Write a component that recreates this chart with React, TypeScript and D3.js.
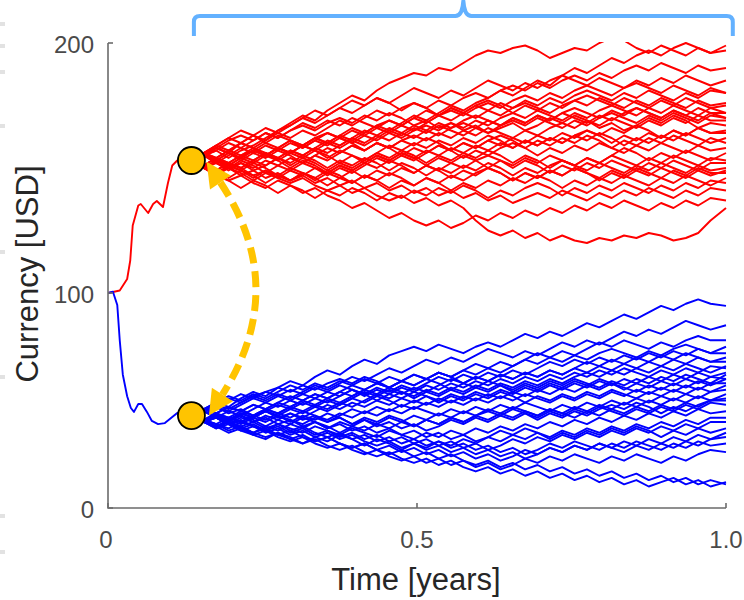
import React from "react";
import * as d3 from "d3";

const xTickValues = [0, 0.5, 1.0];
const xTickLabels = ["0", "0.5", "1.0"];
const yTickValues = [0, 100, 200];
const yTickLabels = ["0", "100", "200"];
const xLabel = "Time [years]";
const yLabel = "Currency [USD]";

const redLeadTimes = [0, 0.008, 0.019, 0.031, 0.036, 0.04, 0.049, 0.053, 0.065, 0.073, 0.079, 0.089, 0.097, 0.104, 0.112, 0.135];
const redLeadValues = [100, 100.4, 101, 105.6, 113, 127, 135, 135.6, 132, 135.6, 136.8, 134.4, 144, 151, 153, 153];
const blueLeadTimes = [0, 0.008, 0.015, 0.019, 0.024, 0.031, 0.037, 0.042, 0.049, 0.055, 0.063, 0.071, 0.081, 0.092, 0.104, 0.112, 0.135];
const blueLeadValues = [100, 100.5, 94.4, 78, 62, 52, 46.5, 44.7, 48.4, 48.4, 44.7, 40.5, 39, 39.5, 42.3, 44.2, 43];

const branchTime = 0.135;
const redBranchValue = 153;
const blueBranchValue = 43;

const fanTimes = [0.135, 0.155, 0.175, 0.195, 0.215, 0.235, 0.255, 0.275, 0.295, 0.315, 0.335, 0.355, 0.375, 0.395, 0.415, 0.435, 0.455, 0.475, 0.495, 0.515, 0.535, 0.555, 0.575, 0.595, 0.615, 0.635, 0.655, 0.675, 0.695, 0.715, 0.735, 0.755, 0.775, 0.795, 0.815, 0.835, 0.855, 0.875, 0.895, 0.915, 0.935, 0.955, 0.975, 1.0];

const redPaths = [
  [153,155,158,156,160,163,161,165,168,171,169,173,176,179,177,181,184,186,188,187,190,189,192,195,197,196,198,199,197,194,196,198,197,200,202,201,198,196,199,197,195,198,196,199],
  [153,151,154,152,155,157,155,158,156,159,162,160,163,161,164,167,165,168,171,169,172,175,173,176,178,181,179,182,185,183,187,190,188,191,194,192,195,197,195,198,200,198,196,197],
  [153,156,154,157,160,158,161,164,162,165,163,166,169,167,170,173,171,174,176,174,177,175,178,180,178,181,183,181,184,182,185,187,185,188,186,189,191,189,192,190,188,191,189,190],
  [153,150,153,156,154,157,155,158,161,159,162,160,163,166,164,167,169,167,170,168,171,173,171,174,176,174,177,179,177,180,178,181,183,181,179,182,184,182,180,183,181,179,182,180],
  [153,155,152,155,158,156,159,157,160,158,161,164,162,165,163,166,164,167,165,168,171,169,172,170,173,171,174,176,174,172,175,177,175,178,176,174,177,175,178,176,174,177,175,176],
  [153,151,149,152,150,153,156,154,157,155,158,156,159,162,160,163,161,164,162,165,163,166,168,166,169,167,170,168,171,169,172,174,172,170,173,171,174,172,170,173,171,174,172,172],
  [153,156,159,157,160,158,155,158,156,159,157,160,158,161,159,162,165,163,166,164,167,165,163,166,164,167,169,167,170,168,166,169,167,170,172,170,168,171,169,172,170,168,171,170],
  [153,150,152,149,152,150,153,151,154,152,155,158,156,159,157,160,158,161,163,161,164,162,165,163,166,164,162,165,163,166,168,166,169,167,170,168,166,169,167,170,168,171,169,169],
  [153,155,157,160,158,161,164,162,165,167,165,168,170,168,171,169,172,170,167,169,166,168,165,167,164,166,168,165,167,170,168,171,169,166,168,165,167,170,168,171,169,166,168,167],
  [153,151,154,157,155,158,156,153,156,154,157,155,152,155,153,156,159,157,160,158,161,159,162,160,163,161,158,161,159,162,160,163,165,163,166,164,167,165,162,165,163,166,164,165],
  [153,156,153,150,153,151,148,151,149,152,150,147,150,148,151,154,152,155,153,156,159,157,160,158,161,159,162,160,163,161,164,162,165,163,160,163,161,164,162,165,163,166,164,164],
  [153,150,147,150,148,145,148,146,149,147,150,148,151,149,152,155,153,156,154,157,155,158,156,159,157,160,158,161,159,162,160,163,161,164,162,159,162,160,163,161,164,162,160,162],
  [153,155,153,156,154,157,160,158,161,159,162,164,162,160,163,161,164,162,165,167,165,168,166,169,167,170,172,170,173,171,169,172,170,173,175,173,171,174,172,175,173,171,174,172],
  [153,156,158,161,163,161,164,162,165,168,166,169,167,170,168,166,169,167,170,173,171,174,172,175,177,175,172,175,173,176,174,177,179,177,175,178,176,174,177,175,178,176,174,175],
  [153,151,154,152,150,153,151,154,157,155,158,161,159,162,165,163,166,164,167,165,168,166,169,171,169,167,170,168,171,169,172,170,168,171,169,172,174,172,170,173,171,169,172,170],
  [153,156,159,162,160,163,166,164,167,170,173,171,174,177,175,178,176,179,182,180,178,181,179,182,185,183,181,184,182,185,187,185,183,186,184,182,185,183,186,184,187,185,183,185],
  [153,150,148,151,149,146,149,147,150,148,145,148,146,149,152,150,153,151,148,151,149,152,150,153,155,153,150,153,151,148,151,149,152,150,153,151,149,152,150,153,151,149,152,152],
  [153,155,152,150,152,149,151,154,152,155,153,150,153,151,154,152,149,152,150,147,150,148,151,149,152,150,147,150,148,151,153,151,149,152,150,148,151,149,152,150,148,151,149,150],
  [153,151,149,146,149,147,144,147,145,148,146,143,146,144,147,145,148,146,143,146,144,147,145,148,150,148,145,148,146,149,147,150,148,146,149,147,150,148,146,149,147,150,148,148],
  [153,156,154,151,149,152,150,147,145,148,146,149,147,144,147,145,142,145,143,146,144,141,144,142,145,143,146,144,147,145,142,145,143,146,144,147,145,143,146,144,147,145,143,146],
  [153,150,153,151,154,157,155,158,156,159,157,154,157,155,152,155,153,156,154,151,154,152,155,153,150,153,151,154,152,155,153,151,154,152,155,153,151,154,152,155,153,151,154,153],
  [153,150,147,145,142,145,143,140,143,141,138,141,139,142,140,137,140,138,141,139,142,140,143,141,138,141,139,142,144,142,139,142,140,143,141,144,142,140,143,141,144,142,145,144],
  [153,151,148,150,147,149,146,148,145,147,144,146,143,145,142,144,141,143,140,142,139,141,138,140,137,139,136,138,140,138,141,139,137,140,138,141,139,142,140,138,141,139,142,141],
  [153,151,149,152,150,147,149,146,144,146,143,141,143,140,142,139,137,139,136,138,135,137,134,129,125,123,125,122,124,121,123,121,120,122,121,123,122,124,123,121,122,124,129,134],
  [153,150,148,145,147,144,142,145,143,140,142,139,137,134,136,133,130,132,129,127,129,126,128,131,129,132,130,133,131,134,132,135,133,136,134,137,135,133,136,134,137,135,138,137],
  [153,155,158,156,153,156,154,157,155,152,155,153,156,159,157,160,158,155,158,156,159,157,154,157,155,158,160,158,155,158,156,159,157,160,158,156,159,157,160,158,156,159,157,158],
  [153,151,149,152,155,153,156,154,151,154,152,149,152,150,153,156,154,157,155,152,155,153,156,154,157,155,152,155,153,150,153,151,154,152,155,158,156,153,156,154,157,155,153,156],
  [153,156,159,162,165,163,160,163,161,158,161,159,162,160,157,160,158,161,159,162,160,157,160,158,161,163,161,158,161,159,162,160,163,161,158,161,159,162,160,163,161,159,162,160],
  [153,155,157,154,157,159,162,165,167,170,168,171,174,172,175,178,176,173,176,174,171,174,172,175,173,176,174,177,175,178,176,179,181,179,177,180,178,181,179,177,180,178,181,180],
  [153,156,153,151,154,152,155,153,150,153,151,148,151,149,146,149,147,150,148,151,149,146,149,147,150,148,145,148,146,149,147,150,148,145,148,146,149,147,150,148,146,149,147,149],
];

const bluePaths = [
  [43,46,49,47,51,54,52,56,59,57,61,64,62,66,69,67,71,73,75,73,76,74,72,75,77,75,78,81,79,82,80,83,86,84,87,90,88,91,94,92,95,97,95,94],
  [43,45,48,46,49,52,50,53,51,54,57,55,58,61,59,62,65,63,66,69,67,70,68,71,74,72,70,73,71,74,77,75,78,76,79,82,80,83,81,84,87,85,83,85],
  [43,41,44,47,45,48,46,49,52,50,53,51,54,57,55,58,56,59,62,60,63,61,64,67,65,68,66,69,72,70,73,71,74,77,75,78,76,74,77,75,78,80,78,78],
  [43,46,44,42,45,48,46,49,47,50,53,51,54,52,55,58,56,59,57,60,63,61,64,62,65,63,66,69,67,70,68,71,69,72,74,72,70,73,71,74,76,74,72,75],
  [43,45,42,45,43,46,49,47,50,48,51,49,52,55,53,56,54,57,55,58,61,59,62,60,63,61,64,62,65,68,66,69,67,70,68,71,69,72,70,73,71,74,72,72],
  [43,40,43,41,44,42,45,48,46,49,47,50,48,51,54,52,55,53,56,54,57,60,58,61,59,62,60,63,61,64,62,65,68,66,69,67,70,68,71,69,72,70,68,70],
  [43,46,49,52,50,53,51,54,57,55,58,56,59,57,60,58,61,59,62,60,63,61,58,61,59,62,60,63,61,64,62,65,63,66,64,67,65,68,66,69,67,70,68,68],
  [43,41,39,42,40,43,46,44,47,45,48,46,49,47,50,53,51,54,52,55,53,56,54,57,55,58,56,59,57,60,58,61,63,61,64,62,65,63,66,64,67,65,63,66],
  [43,45,47,45,48,51,49,52,50,53,56,54,57,55,52,55,53,56,54,57,55,58,56,59,57,60,58,61,59,62,60,63,61,64,62,65,63,61,64,62,65,63,66,65],
  [43,40,42,39,42,40,43,41,44,42,45,48,46,49,47,50,48,51,49,52,50,53,51,54,52,55,53,56,54,57,55,58,56,59,57,60,58,61,59,62,60,63,61,63],
  [43,46,44,47,45,43,46,44,47,50,48,51,49,52,55,53,56,54,51,54,52,55,53,56,54,57,55,58,56,59,57,60,58,56,59,57,60,58,61,59,62,60,58,62],
  [43,45,43,41,44,42,45,43,46,44,47,45,48,51,49,52,50,47,50,48,51,49,52,50,53,51,54,52,55,53,56,54,57,55,58,56,54,57,55,58,56,59,57,60],
  [43,40,38,41,39,42,40,43,41,39,42,40,43,46,44,47,45,48,46,49,47,50,48,51,49,52,50,53,51,49,52,50,53,51,54,52,55,53,56,54,57,55,58,58],
  [43,46,48,51,49,52,54,52,55,53,51,54,52,55,53,50,53,51,54,52,49,52,50,53,51,54,52,49,52,50,53,51,54,52,55,53,51,54,52,55,53,56,54,57],
  [43,41,44,42,40,43,41,44,42,45,43,41,44,42,45,43,46,44,47,45,43,46,44,47,45,48,46,49,47,45,48,46,49,47,50,48,51,49,52,50,53,51,54,55],
  [43,45,42,40,43,41,38,41,39,42,40,37,40,38,41,39,42,40,43,41,44,42,45,43,46,44,47,45,43,46,44,47,45,48,46,49,47,50,48,51,49,52,50,53],
  [43,40,37,40,38,35,38,36,39,37,40,38,35,38,36,39,37,40,38,41,39,42,40,43,41,44,42,45,43,46,44,42,45,43,46,44,47,45,48,46,49,47,50,51],
  [43,45,47,44,46,43,45,42,44,41,43,40,42,39,41,38,40,37,39,36,38,41,39,42,40,43,41,44,42,45,43,46,44,47,45,43,46,44,47,45,48,46,49,48],
  [43,41,39,37,40,38,36,39,37,35,38,36,34,37,35,33,36,34,32,35,33,36,34,37,35,38,36,39,37,40,38,41,39,42,40,43,41,44,42,45,43,46,44,45],
  [43,40,38,35,37,34,32,35,33,30,33,31,34,32,29,32,30,27,30,28,31,29,32,30,33,31,34,32,35,33,36,34,37,35,38,36,39,37,40,38,41,39,42,42],
  [43,45,42,39,41,38,36,38,35,37,34,36,33,35,32,34,31,33,30,32,29,31,28,30,27,29,32,30,33,31,34,32,35,33,36,34,37,35,38,36,39,37,40,40],
  [43,40,42,39,36,38,35,37,34,36,33,35,32,34,31,29,31,28,30,27,29,26,28,25,27,24,26,23,25,28,26,29,27,30,28,31,29,32,30,33,31,34,32,35],
  [43,41,38,40,37,35,37,34,32,34,31,33,30,28,30,27,29,26,28,25,27,24,26,23,25,22,24,27,25,28,26,29,27,30,28,26,29,27,30,28,31,29,32,33],
  [43,40,37,39,36,34,36,33,31,33,30,28,30,27,25,27,24,22,24,21,23,20,22,19,21,18,20,23,21,24,22,25,23,21,24,22,25,23,21,24,22,25,27,26],
  [43,41,39,36,38,35,33,35,32,30,32,29,27,29,26,24,26,23,21,23,20,22,19,17,19,16,18,15,17,14,16,13,15,12,14,11,13,10,12,14,11,13,10,12],
  [43,40,42,39,37,39,36,34,36,33,31,33,30,28,30,27,25,27,24,26,23,25,22,20,22,19,21,18,20,17,19,16,18,15,17,14,16,13,15,12,14,11,13,11],
  [43,46,44,41,44,42,45,43,40,43,41,44,42,39,42,40,43,41,38,41,39,42,40,43,45,43,46,44,41,44,42,45,43,46,48,46,49,47,44,47,45,48,50,50],
  [43,45,48,50,53,51,54,56,54,57,55,58,60,58,61,59,56,59,57,60,58,55,58,56,59,57,54,57,55,58,56,59,57,60,58,55,58,56,59,57,60,58,61,60],
  [43,46,44,41,43,40,42,39,41,38,40,37,39,36,38,35,37,34,36,33,35,32,34,31,33,36,34,37,35,32,35,33,36,34,37,35,38,36,33,36,34,37,35,37],
  [43,41,43,40,38,40,37,39,36,38,35,33,35,32,34,31,33,30,32,29,31,28,30,27,29,26,28,25,27,30,28,31,29,27,30,28,31,29,27,30,28,31,29,30],
];

const edgeMarks = [22, 44, 70, 124, 250, 375, 514, 550];

const FONT = "'Liberation Sans', Arial, Helvetica, sans-serif";

export default function App() {
  const W = 744;
  const H = 600;
  const x = d3.scaleLinear().domain([0, 1]).range([108, 726]);
  const y = d3.scaleLinear().domain([0, 100, 200]).range([508, 293, 43]);
  const line = d3
    .line<[number, number]>()
    .x((d) => x(d[0]))
    .y((d) => y(d[1]));

  const fanLine = (vals: number[]) => {
    const n = Math.min(vals.length, fanTimes.length);
    const pts: [number, number][] = [];
    for (let i = 0; i < n; i++) pts.push([fanTimes[i], vals[i]]);
    return line(pts) || "";
  };
  const leadLine = (ts: number[], vs: number[]) =>
    line(ts.map((t, i) => [t, vs[i]] as [number, number])) || "";

  const cx = x(branchTime);
  const topY = y(redBranchValue);
  const botY = y(blueBranchValue);

  const p0: [number, number] = [cx + 29, topY + 22];
  const pc: [number, number] = [cx + 99, (topY + botY) / 2];
  const p1: [number, number] = [cx + 31, botY - 21];
  const arrowHead = (p: [number, number], c: [number, number]) => {
    const dx = c[0] - p[0];
    const dy = c[1] - p[1];
    const len = Math.hypot(dx, dy);
    const ux = dx / len;
    const uy = dy / len;
    const L = 25;
    const hw = 12.5;
    const tip = [p[0] - ux * L, p[1] - uy * L];
    const b1 = [p[0] - uy * hw, p[1] + ux * hw];
    const b2 = [p[0] + uy * hw, p[1] - ux * hw];
    return `M${tip[0]},${tip[1]}L${b1[0]},${b1[1]}L${b2[0]},${b2[1]}Z`;
  };

  const bl = x(0.139);
  const br = x(1.011);
  const bm = (bl + br) / 2;
  const bTop = 16;
  const bBot = 36;
  const bracket = `M${bl},${bBot} V${bTop + 6} Q${bl},${bTop} ${bl + 6},${bTop} H${bm - 8} Q${bm - 1},${bTop} ${bm},${bTop - 15} Q${bm + 1},${bTop} ${bm + 8},${bTop} H${br - 6} Q${br},${bTop} ${br},${bTop + 6} V${bBot}`;

  const axisColor = "#6b6b6b";
  const tickColor = "#4a4a4a";

  return (
    <svg
      width={W}
      height={H}
      viewBox={`0 0 ${W} ${H}`}
      style={{ position: "absolute", left: 0, top: 0, background: "#fff" }}
    >
      <defs>
        <clipPath id="plotClip">
          <rect x={x(0)} y={y(200) - 1} width={W - x(0)} height={y(0) - y(200) + 2} />
        </clipPath>
      </defs>
      <rect x={0} y={0} width={W} height={H} fill="#fff" />

      {edgeMarks.map((m, i) => (
        <rect key={i} x={0} y={m} width={5} height={4} fill="#e2e2e2" />
      ))}

      <g clipPath="url(#plotClip)" fill="none" strokeWidth={1.9} strokeLinejoin="round">
        {bluePaths.map((p, i) => (
          <path key={"b" + i} d={fanLine(p)} stroke="#0000ff" />
        ))}
        {redPaths.map((p, i) => (
          <path key={"r" + i} d={fanLine(p)} stroke="#ff0000" />
        ))}
        <path d={leadLine(redLeadTimes, redLeadValues)} stroke="#ff0000" />
        <path d={leadLine(blueLeadTimes, blueLeadValues)} stroke="#0000ff" />
      </g>

      <g stroke={axisColor} strokeWidth={1.6} fill="none">
        <path d={`M${x(0)},${y(200)} V${y(0)} H${x(1)}`} />
        {yTickValues.map((v) => (
          <line key={"yt" + v} x1={x(0)} x2={x(0) + 5} y1={y(v)} y2={y(v)} />
        ))}
        {xTickValues.map((v) => (
          <line key={"xt" + v} x1={x(v)} x2={x(v)} y1={y(0)} y2={y(0) - 5} />
        ))}
      </g>

      <g fontFamily={FONT} fontSize={24} fill={tickColor}>
        {yTickValues.map((v, i) => (
          <text key={"yl" + v} x={94} y={y(v) + 10} textAnchor="end">
            {yTickLabels[i]}
          </text>
        ))}
        {xTickValues.map((v, i) => (
          <text key={"xl" + v} x={x(v) - (i === 0 ? 2 : 0)} y={548} textAnchor="middle">
            {xTickLabels[i]}
          </text>
        ))}
      </g>

      <text x={416} y={590} textAnchor="middle" fontFamily={FONT} fontSize={31} fill="#262626">
        {xLabel}
      </text>
      <text
        transform={`translate(38,274) rotate(-90)`}
        textAnchor="middle"
        fontFamily={FONT}
        fontSize={31}
        fill="#262626"
      >
        {yLabel}
      </text>

      <path d={bracket} fill="none" stroke="#63b1ff" strokeWidth={4} strokeLinejoin="round" />

      <circle cx={cx} cy={topY} r={13.5} fill="#ffc400" stroke="#000" strokeWidth={1.8} />
      <circle cx={cx} cy={botY} r={13.5} fill="#ffc400" stroke="#000" strokeWidth={1.8} />

      <path
        d={`M${p0[0]},${p0[1]} Q${pc[0]},${pc[1]} ${p1[0]},${p1[1]}`}
        fill="none"
        stroke="#ffc400"
        strokeWidth={7}
        strokeDasharray="16 8"
      />
      <path d={arrowHead(p0, pc)} fill="#ffc400" />
      <path d={arrowHead(p1, pc)} fill="#ffc400" />
    </svg>
  );
}
